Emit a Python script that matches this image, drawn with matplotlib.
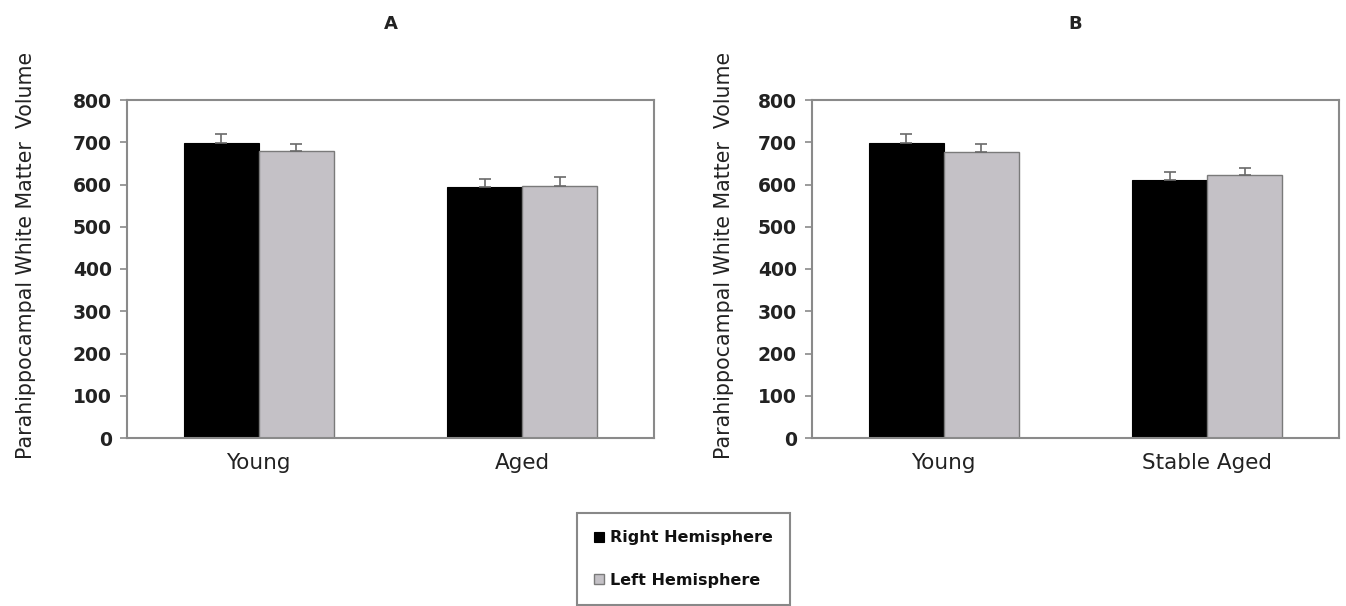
import matplotlib
matplotlib.use("Agg")
import matplotlib.pyplot as plt
import numpy as np

plt.rcParams['font.family'] = ['DejaVu Sans']

# Panel data
panel_titles = ["A", "B"]
groups_a = ["Young", "Aged"]
groups_b = ["Young", "Stable Aged"]
right_a = [699, 594]
left_a = [679, 597]
right_a_err = [20, 20]
left_a_err = [17, 20]
right_b = [699, 610]
left_b = [677, 622]
right_b_err = [20, 20]
left_b_err = [19, 18]
yticks = [0, 100, 200, 300, 400, 500, 600, 700, 800]
series_names = ["Right Hemisphere", "Left Hemisphere"]

RIGHT_COLOR = "black"
LEFT_COLOR = "#c4c1c6"
SPINE = "#8a8a8a"
TEXT = "#222222"

fig = plt.figure(figsize=(13.46, 6.06), dpi=100)
W, H = 1346, 606


def add_panel(left_px, title, groups, right, left, rerr, lerr, ylab_x):
    ax = fig.add_axes([left_px / W, 1 - 438 / H, 527 / W, 338 / H])
    x = np.arange(len(groups))
    bw = 0.285
    err_kw = dict(ecolor="#6a6a6a", elinewidth=1.2, capsize=4, capthick=1.2)
    ax.bar(x - bw / 2, right, bw, color=RIGHT_COLOR, edgecolor="black",
           linewidth=0.8, yerr=[np.zeros(len(rerr)), rerr], error_kw=err_kw,
           label=series_names[0])
    ax.bar(x + bw / 2, left, bw, color=LEFT_COLOR, edgecolor="#7a7a7a",
           linewidth=1.0, yerr=[np.zeros(len(lerr)), lerr], error_kw=err_kw,
           label=series_names[1])
    ax.set_xlim(-0.5, len(groups) - 0.5)
    ax.set_ylim(0, 800)
    ax.set_yticks(yticks)
    ax.set_xticks(x)
    ax.set_xticklabels(groups, fontsize=15.5, color=TEXT)
    ax.tick_params(axis="x", length=0, pad=11)
    ax.tick_params(axis="y", length=5, width=1.2, color=SPINE, pad=6,
                   labelsize=13.5, labelcolor=TEXT)
    for lbl in ax.get_yticklabels():
        lbl.set_fontweight("bold")
    for s in ax.spines.values():
        s.set_color(SPINE)
        s.set_linewidth(1.5)
    ax.set_ylabel("Parahippocampal White Matter  Volume", fontsize=14.8,
                  color=TEXT)
    ax.yaxis.set_label_coords(ylab_x, 0.541)
    ax.set_title(title, fontsize=13, fontweight="bold", color=TEXT, pad=51)
    return ax


ax_a = add_panel(127, panel_titles[0], groups_a, right_a, left_a,
                 right_a_err, left_a_err, -0.173)
ax_b = add_panel(812, panel_titles[1], groups_b, right_b, left_b,
                 right_b_err, left_b_err, -0.148)

# Shared legend below the panels
handles, labels = ax_a.get_legend_handles_labels()
leg = fig.legend(handles, labels, loc="center", bbox_to_anchor=(683.5 / W, 1 - 559 / H),
                 frameon=True, fancybox=False, edgecolor="#6a6a6a",
                 prop=dict(size=11.5, weight="bold"), handlelength=0.6,
                 handleheight=0.6, handletextpad=0.4, labelspacing=1.7,
                 borderpad=1.1, borderaxespad=0)
leg.get_frame().set_linewidth(1.5)
for t in leg.get_texts():
    t.set_color("#111111")

fig.savefig("out.png", dpi=100, facecolor="white")
